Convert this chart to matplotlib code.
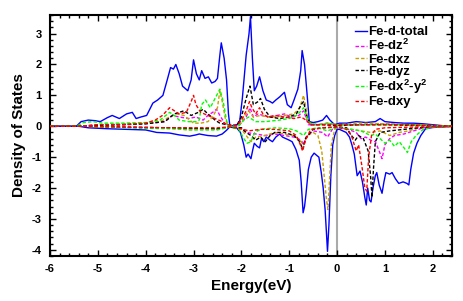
import matplotlib
matplotlib.use("Agg")
import matplotlib.pyplot as plt
from matplotlib.ticker import MultipleLocator

plt.rcParams['font.family'] = ['Liberation Sans', 'DejaVu Sans']
plt.rcParams['axes.unicode_minus'] = False
plt.rcParams['mathtext.fontset'] = 'custom'
plt.rcParams['mathtext.rm'] = 'Liberation Sans:bold'
plt.rcParams['mathtext.bf'] = 'Liberation Sans:bold'

# ---- data: (energy, DOS) for each orbital, spin up and spin down ----
total_up_E = [-6.0, -5.45, -5.35, -5.2, -5.05, -4.95, -4.8, -4.7, -4.55, -4.4, -4.28, -4.2, -4.1, -3.98, -3.85, -3.75, -3.64, -3.55, -3.48, -3.42, -3.37, -3.3, -3.23, -3.12, -3.05, -3.0, -2.94, -2.88, -2.83, -2.76, -2.69, -2.62, -2.55, -2.5, -2.45, -2.42, -2.36, -2.31, -2.27, -2.24, -2.1, -2.04, -1.98, -1.9, -1.84, -1.81, -1.77, -1.73, -1.68, -1.62, -1.55, -1.48, -1.4, -1.35, -1.28, -1.2, -1.1, -1.04, -0.96, -0.9, -0.82, -0.76, -0.73, -0.68, -0.63, -0.58, -0.5, -0.4, -0.3, -0.22, -0.15, -0.05, 0.05, 0.2, 0.4, 0.6, 0.8, 0.9, 1.0, 1.2, 1.4, 1.6, 1.8, 2.0, 2.2, 2.4]
total_up = [0, 0, 0.15, 0.2, 0.18, 0.15, 0.28, 0.35, 0.25, 0.4, 0.45, 0.25, 0.3, 0.35, 0.75, 0.85, 1.0, 1.5, 1.9, 1.85, 2.0, 1.7, 1.3, 1.15, 1.5, 2.15, 1.7, 1.5, 1.8, 1.55, 1.6, 1.4, 1.45, 1.55, 2.3, 2.7, 2.2, 1.5, 0.4, 0.0, 0.05, 0.1, 0.9, 2.3, 3.0, 3.55, 2.2, 1.15, 1.3, 1.6, 1.15, 0.85, 0.8, 0.75, 0.85, 0.95, 1.1, 0.7, 0.6, 0.85, 1.2, 1.8, 2.45, 2.0, 1.1, 0.15, 0.12, 0.15, 0.2, 0.35, 0.2, 0.05, 0.1, 0.1, 0.15, 0.12, 0.15, 0.25, 0.15, 0.12, 0.1, 0.1, 0.08, 0.05, 0.02, 0]

total_dn_E = [-6.0, -5.4, -5.2, -4.8, -4.4, -4.0, -3.77, -3.5, -3.3, -3.08, -2.95, -2.88, -2.7, -2.52, -2.4, -2.31, -2.25, -2.1, -2.02, -1.95, -1.9, -1.86, -1.8, -1.76, -1.73, -1.67, -1.62, -1.58, -1.53, -1.48, -1.4, -1.35, -1.28, -1.2, -1.14, -1.07, -1.0, -0.94, -0.86, -0.79, -0.75, -0.71, -0.68, -0.65, -0.6, -0.54, -0.48, -0.42, -0.38, -0.33, -0.29, -0.25, -0.22, -0.2, -0.17, -0.13, -0.09, -0.05, 0.0, 0.05, 0.12, 0.19, 0.26, 0.31, 0.36, 0.42, 0.48, 0.53, 0.58, 0.61, 0.64, 0.68, 0.71, 0.75, 0.8, 0.83, 0.88, 0.94, 0.98, 1.02, 1.1, 1.15, 1.22, 1.29, 1.38, 1.46, 1.5, 1.54, 1.6, 1.67, 1.75, 1.85, 2.0, 2.2, 2.4]
total_dn = [0, 0, -0.05, -0.08, -0.1, -0.12, -0.2, -0.22, -0.28, -0.32, -0.28, -0.25, -0.3, -0.32, -0.25, -0.13, -0.03, -0.05, -0.2, -0.6, -1.0, -0.9, -1.05, -0.75, -0.55, -0.65, -0.7, -0.4, -0.5, -0.35, -0.45, -0.5, -0.35, -0.25, -0.35, -0.4, -0.45, -0.5, -0.75, -1.1, -1.8, -2.8, -2.6, -2.2, -1.4, -1.0, -0.87, -0.95, -1.0, -1.5, -2.0, -2.7, -3.5, -4.05, -3.2, -1.6, -0.6, -0.3, -0.1, -0.1, -0.15, -0.2, -0.35, -0.6, -0.9, -1.6, -1.45, -1.8, -2.3, -2.55, -2.0, -2.4, -2.45, -2.0, -1.6, -1.5, -1.9, -2.17, -1.8, -1.5, -1.55, -1.5, -1.7, -1.85, -1.8, -1.85, -1.9, -1.4, -0.87, -0.55, -0.3, -0.08, -0.04, -0.02, 0]

dz2_up_E = [-6, -5.3, -5.1, -4.5, -4.0, -3.6, -3.45, -3.3, -3.1, -2.95, -2.8, -2.7, -2.6, -2.52, -2.45, -2.35, -2.25, -2.05, -1.9, -1.82, -1.75, -1.65, -1.55, -1.4, -1.25, -1.1, -0.95, -0.8, -0.7, -0.6, -0.4, -0.2, 0, 0.5, 1.0, 1.5, 2.0, 2.4]
dz2_up = [0, 0, 0.05, 0.05, 0.08, 0.15, 0.35, 0.3, 0.25, 0.3, 0.2, 0.35, 0.45, 0.55, 0.35, 0.1, 0, 0.02, 0.3, 0.6, 0.3, 0.4, 0.35, 0.3, 0.35, 0.4, 0.3, 0.35, 0.5, 0.05, 0.05, 0.1, 0.05, 0.05, 0.08, 0.05, 0.02, 0]
dz2_dn_E = [-6, -5.3, -4.5, -3.5, -3.0, -2.5, -2.25, -2.0, -1.9, -1.7, -1.5, -1.3, -1.1, -0.9, -0.75, -0.7, -0.65, -0.5, -0.3, -0.2, -0.1, 0, 0.2, 0.4, 0.5, 0.6, 0.7, 0.8, 0.88, 0.94, 1.0, 1.1, 1.2, 1.4, 1.6, 1.8, 2.4]
dz2_dn = [0, 0, -0.03, -0.05, -0.08, -0.1, -0.02, -0.05, -0.2, -0.25, -0.3, -0.25, -0.3, -0.35, -0.45, -0.6, -0.35, -0.15, -0.2, -0.35, -0.1, -0.05, -0.08, -0.2, -0.4, -0.35, -0.45, -0.5, -0.8, -1.05, -0.6, -0.4, -0.3, -0.25, -0.15, -0.05, 0]

dxz_up_E = [-6, -5.3, -5.0, -4.5, -4.0, -3.7, -3.5, -3.35, -3.2, -3.0, -2.85, -2.7, -2.6, -2.5, -2.45, -2.4, -2.33, -2.25, -2.05, -1.95, -1.85, -1.75, -1.6, -1.45, -1.3, -1.1, -0.9, -0.78, -0.7, -0.65, -0.6, -0.4, -0.2, 0, 0.5, 1.0, 1.5, 2.0, 2.4]
dxz_up = [0, 0, 0.05, 0.08, 0.1, 0.15, 0.3, 0.4, 0.35, 0.1, 0.1, 0.15, 0.3, 0.6, 1.15, 0.8, 0.2, 0, 0.02, 0.3, 0.5, 0.3, 0.35, 0.3, 0.3, 0.35, 0.4, 0.6, 1.0, 0.6, 0.1, 0.05, 0.1, 0.05, 0.1, 0.08, 0.05, 0.02, 0]
dxz_dn_E = [-6, -5.3, -4.5, -3.5, -3.1, -2.8, -2.5, -2.25, -2.0, -1.9, -1.8, -1.7, -1.5, -1.3, -1.1, -0.9, -0.75, -0.7, -0.62, -0.5, -0.4, -0.32, -0.27, -0.22, -0.19, -0.16, -0.12, -0.05, 0, 0.3, 0.5, 0.7, 0.9, 1.1, 1.3, 1.5, 1.7, 2.4]
dxz_dn = [0, 0, -0.03, -0.05, -0.12, -0.08, -0.1, -0.02, -0.1, -0.3, -0.5, -0.35, -0.3, -0.2, -0.25, -0.3, -0.5, -0.6, -0.3, -0.2, -0.3, -0.8, -1.6, -2.4, -2.7, -1.8, -0.6, -0.1, -0.05, -0.1, -0.15, -0.2, -0.15, -0.3, -0.2, -0.15, -0.05, 0]

dyz_up_E = [-6, -5.3, -5.0, -4.5, -4.0, -3.6, -3.4, -3.2, -3.05, -2.9, -2.8, -2.7, -2.55, -2.45, -2.3, -2.1, -2.0, -1.9, -1.82, -1.75, -1.65, -1.6, -1.52, -1.4, -1.2, -1.0, -0.85, -0.75, -0.7, -0.63, -0.55, -0.3, 0, 0.5, 1.0, 1.5, 2.4]
dyz_up = [0, 0, 0.03, 0.05, 0.08, 0.15, 0.4, 0.5, 0.35, 0.45, 0.55, 0.4, 0.2, 0.1, 0.05, 0.02, 0.3, 0.9, 1.3, 0.7, 0.8, 0.9, 0.55, 0.3, 0.25, 0.3, 0.4, 0.7, 0.8, 0.3, 0.05, 0.05, 0.02, 0.05, 0.05, 0.03, 0]
dyz_dn_E = [-6, -5.3, -4.5, -3.5, -2.5, -2.25, -2.0, -1.9, -1.8, -1.7, -1.6, -1.5, -1.4, -1.3, -1.1, -0.9, -0.78, -0.72, -0.66, -0.5, -0.3, 0, 0.2, 0.3, 0.38, 0.45, 0.55, 0.65, 0.7, 0.73, 0.76, 0.8, 0.9, 1.1, 1.4, 1.7, 2.4]
dyz_dn = [0, 0, -0.03, -0.05, -0.08, -0.02, -0.05, -0.2, -0.3, -0.45, -0.35, -0.5, -0.3, -0.2, -0.2, -0.3, -0.5, -0.75, -0.4, -0.1, -0.05, -0.02, -0.05, -0.3, -0.45, -0.3, -0.4, -0.8, -1.6, -2.3, -1.4, -0.5, -0.2, -0.15, -0.1, -0.05, 0]

dx2y2_up_E = [-6, -5.45, -5.3, -5.1, -4.9, -4.5, -4.0, -3.7, -3.5, -3.4, -3.3, -3.1, -2.95, -2.88, -2.83, -2.75, -2.65, -2.55, -2.45, -2.38, -2.3, -2.25, -2.05, -1.95, -1.85, -1.7, -1.5, -1.2, -1.0, -0.85, -0.75, -0.7, -0.62, -0.55, -0.3, -0.2, 0, 0.5, 1.0, 1.5, 2.0, 2.4]
dx2y2_up = [0, 0, 0.12, 0.15, 0.1, 0.1, 0.12, 0.2, 0.45, 0.35, 0.2, 0.15, 0.15, 0.2, 0.7, 0.85, 0.6, 0.9, 1.2, 0.8, 0.1, 0, 0.02, 0.2, 0.3, 0.15, 0.15, 0.2, 0.25, 0.35, 0.5, 0.6, 0.2, 0.08, 0.05, 0.1, 0.05, 0.05, 0.05, 0.05, 0.02, 0]
dx2y2_dn_E = [-6, -5.3, -4.5, -3.5, -3.0, -2.5, -2.25, -2.05, -1.95, -1.88, -1.8, -1.72, -1.6, -1.3, -1.0, -0.85, -0.75, -0.7, -0.6, -0.4, -0.2, 0, 0.3, 0.5, 0.7, 0.8, 0.9, 1.0, 1.1, 1.2, 1.3, 1.4, 1.47, 1.55, 1.65, 1.8, 2.0, 2.4]
dx2y2_dn = [0, 0, -0.05, -0.08, -0.12, -0.12, -0.02, -0.1, -0.4, -0.55, -0.5, -0.2, -0.1, -0.05, -0.08, -0.15, -0.25, -0.3, -0.1, -0.05, -0.15, -0.03, -0.1, -0.15, -0.3, -0.25, -0.4, -0.55, -0.45, -0.65, -0.5, -0.7, -0.85, -0.5, -0.3, -0.1, -0.03, 0]

dxy_up_E = [-6, -5.3, -5.0, -4.5, -4.0, -3.8, -3.65, -3.5, -3.4, -3.3, -3.15, -3.05, -3.0, -2.95, -2.85, -2.7, -2.55, -2.4, -2.3, -2.1, -2.0, -1.9, -1.83, -1.78, -1.7, -1.62, -1.55, -1.45, -1.3, -1.1, -0.9, -0.75, -0.65, -0.55, -0.3, 0, 0.5, 1.0, 1.5, 2.0, 2.4]
dxy_up = [0, 0, 0.05, 0.05, 0.1, 0.2, 0.35, 0.6, 0.5, 0.4, 0.45, 0.8, 1.0, 0.7, 0.45, 0.35, 0.25, 0.15, 0.05, 0.02, 0.2, 0.5, 0.8, 0.6, 0.4, 0.6, 0.4, 0.3, 0.35, 0.3, 0.25, 0.3, 0.2, 0.05, 0.05, 0.05, 0.05, 0.05, 0.05, 0.02, 0]
dxy_dn_E = [-6, -5.3, -4.5, -3.5, -2.5, -2.25, -2.0, -1.85, -1.6, -1.3, -1.0, -0.85, -0.78, -0.72, -0.66, -0.55, -0.3, 0, 0.2, 0.3, 0.4, 0.45, 0.52, 0.58, 0.62, 0.66, 0.72, 0.8, 1.0, 1.5, 2.4]
dxy_dn = [0, 0, -0.03, -0.05, -0.05, -0.02, -0.08, -0.15, -0.1, -0.1, -0.15, -0.3, -0.55, -0.8, -0.45, -0.1, -0.05, -0.03, -0.1, -0.3, -0.8, -0.6, -1.3, -2.0, -2.1, -1.0, -0.3, -0.1, -0.05, -0.03, 0]

labels = ['Fe-d-total', r'Fe-dz$^{2}$', 'Fe-dxz', 'Fe-dyz', r'Fe-dx$^{2}$-y$^{2}$', 'Fe-dxy']
colors = ['#0000ff', '#ff00ff', '#c8a000', '#000000', '#00ff00', '#ff0000']

x_ticks = [-6, -5, -4, -3, -2, -1, 0, 1, 2]
y_ticks = [-4, -3, -2, -1, 0, 1, 2, 3]

series = [
    (total_up_E, total_up, total_dn_E, total_dn),
    (dz2_up_E, dz2_up, dz2_dn_E, dz2_dn),
    (dxz_up_E, dxz_up, dxz_dn_E, dxz_dn),
    (dyz_up_E, dyz_up, dyz_dn_E, dyz_dn),
    (dx2y2_up_E, dx2y2_up, dx2y2_dn_E, dx2y2_dn),
    (dxy_up_E, dxy_up, dxy_dn_E, dxy_dn),
]

fig = plt.figure(figsize=(4.63, 3.01), dpi=100)
ax = fig.add_axes([0.108, 0.1495, 0.868, 0.8005])

ax.axvline(0, color='#aaaaaa', lw=1.5, zorder=1)

for i, (eu, vu, ed, vd) in enumerate(series):
    if i == 0:
        kw = dict(color=colors[i], lw=1.0, ls='-')
    else:
        kw = dict(color=colors[i], lw=1.0, ls=(0, (2.5, 1.5)))
    ax.plot(eu, vu, label=labels[i], zorder=2 + i, **kw)
    ax.plot(ed, vd, zorder=2 + i, **kw)

ax.set_xlim(-6, 2.4)
ax.set_ylim(-4.2, 3.6)
ax.set_xticks(x_ticks)
ax.set_yticks(y_ticks)
ax.set_xticklabels([str(t) for t in x_ticks])
ax.set_yticklabels([str(t) for t in y_ticks])
ax.xaxis.set_minor_locator(MultipleLocator(0.2))
ax.yaxis.set_minor_locator(MultipleLocator(0.2))
ax.tick_params(which='both', direction='in', top=True, right=True, width=1.0)
ax.tick_params(which='major', length=4, labelsize=8, pad=6)
ax.tick_params(which='minor', length=2)
for lbl in ax.get_xticklabels() + ax.get_yticklabels():
    lbl.set_fontweight('bold')
for sp in ax.spines.values():
    sp.set_linewidth(1.5)

ax.set_xlabel('Energy(eV)', fontsize=11, fontweight='bold', labelpad=3)
ax.set_ylabel('Density of States', fontsize=11, fontweight='bold', labelpad=4)

leg = ax.legend(loc='upper left', bbox_to_anchor=(0.758, 0.955), frameon=False,
                borderpad=0, borderaxespad=0,
                handlelength=0.9, handletextpad=0.15, labelspacing=0.0,
                prop={'weight': 'bold', 'size': 9.5})

fig.savefig('out.png', dpi=100)
